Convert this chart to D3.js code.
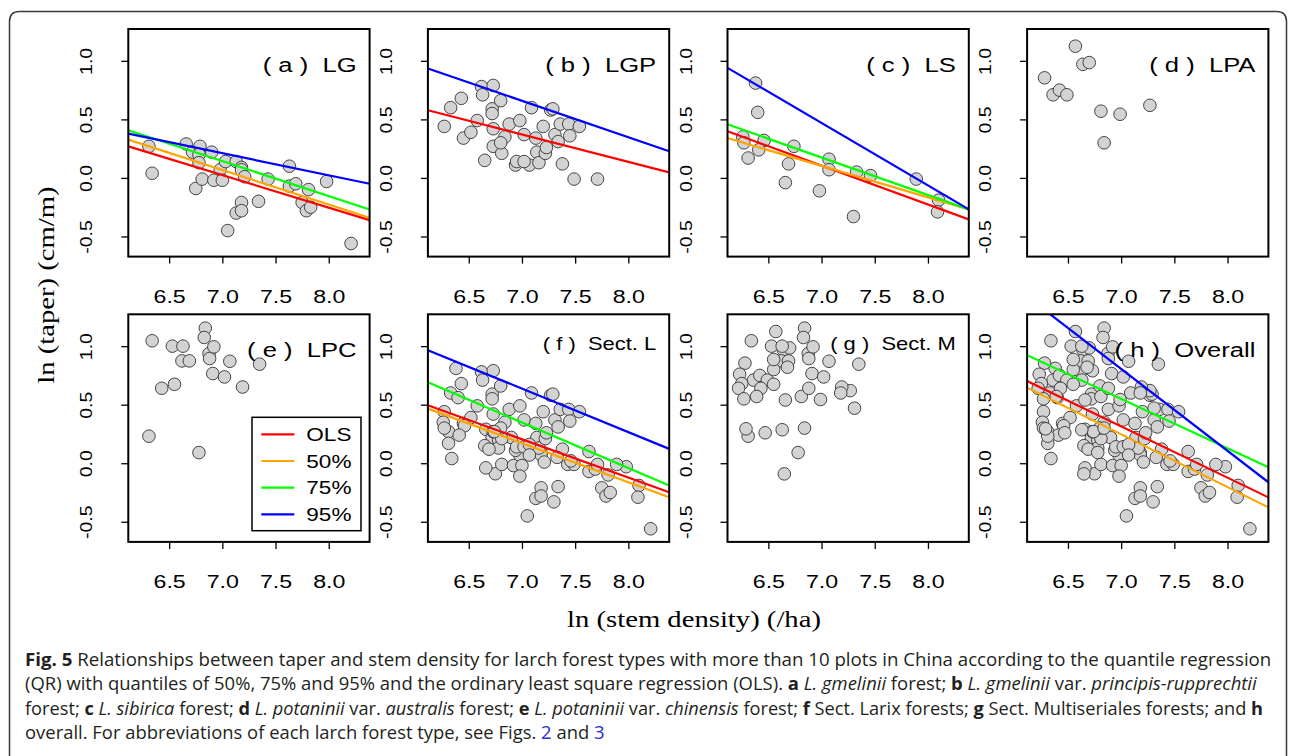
<!DOCTYPE html>
<html><head><meta charset="utf-8">
<script src="https://cdn.jsdelivr.net/npm/d3@7"></script>
<style>
html,body{margin:0;padding:0;background:#fff;}
svg{display:block;}
text{white-space:pre;}
</style></head>
<body>
<svg id="chart" width="1290" height="756"></svg>
<script>
// ---------------- data ----------------
const xTicks = [6.5, 7.0, 7.5, 8.0];
const yTicks = [-0.5, 0.0, 0.5, 1.0];
const xDomain = [6.116, 8.384];   // ln(stem density) axis limits
const yDomain = [-0.672, 1.272];  // ln(taper) axis limits
const legendLabels = ["OLS", "50%", "75%", "95%"];
const lineColors = ["#ff0000", "#ffa500", "#00ff00", "#0000ff"];
const panelTitles = ["( a )  LG", "( b )  LGP", "( c )  LS", "( d )  LPA",
                     "( e )  LPC", "( f )  Sect. L", "( g )  Sect. M", "( h )  Overall"];
const xTitle = "ln (stem density) (/ha)";
const yTitle = "ln (taper) (cm/m)";

// plots: [ln stem density, ln taper]
const ptsLG = [[6.31,0.27],[6.34,0.04],[6.66,0.29],[6.75,-0.09],[6.72,0.22],[6.79,0.27],[6.78,0.20],[6.78,0.13],
  [6.81,-0.01],[6.90,0.22],[6.92,-0.02],[6.98,0.07],[7.00,-0.02],[7.05,-0.45],[7.03,0.14],[7.13,0.14],[7.18,0.09],
  [7.18,0.07],[7.21,0.01],[7.18,-0.21],[7.13,-0.30],[7.18,-0.28],[7.34,-0.20],[7.43,-0.01],[7.63,0.10],[7.63,-0.07],
  [7.69,-0.05],[7.75,-0.21],[7.79,-0.28],[7.83,-0.25],[7.81,-0.10],[7.98,-0.03],[8.21,-0.56]];
const ptsLGP = [[6.27,0.44],[6.33,0.60],[6.43,0.68],[6.45,0.34],[6.52,0.39],[6.58,0.49],[6.62,0.78],[6.63,0.71],
  [6.65,0.15],[6.73,0.79],[6.72,0.59],[6.72,0.55],[6.73,0.42],[6.73,0.27],[6.80,0.66],[6.84,0.35],[6.81,0.21],
  [6.80,0.30],[6.88,0.46],[6.98,0.49],[7.02,0.37],[6.94,0.11],[6.95,0.14],[7.07,0.11],[7.09,0.60],[7.13,0.34],
  [7.14,0.22],[7.16,0.13],[7.20,0.44],[7.22,0.21],[7.27,0.58],[7.29,0.59],[7.23,0.26],[7.31,0.37],[7.34,0.31],
  [7.36,0.46],[7.38,0.12],[7.44,0.46],[7.45,0.36],[7.54,0.44],[7.49,-0.01],[7.71,-0.01],[7.02,0.14]];
const ptsLS = [[6.26,0.35],[6.27,0.30],[6.31,0.17],[6.38,0.81],[6.40,0.56],[6.46,0.32],[6.41,0.24],[6.66,-0.04],
  [6.69,0.12],[6.74,0.27],[6.98,-0.11],[7.07,0.16],[7.07,0.07],[7.30,-0.33],[7.33,0.05],[7.46,0.02],[7.89,-0.01],
  [8.10,-0.19],[8.09,-0.29]];
const ptsLPA = [[6.28,0.855],[6.36,0.71],[6.42,0.75],[6.49,0.71],[6.57,1.125],[6.64,0.97],[6.70,0.985],[6.81,0.57],
  [6.84,0.30],[6.99,0.544],[7.27,0.62]];
const ptsLPC = [[6.34,1.046],[6.53,1.0],[6.63,1.0],[6.62,0.874],[6.69,0.874],[6.43,0.64],[6.55,0.674],[6.31,0.231],
  [6.78,0.091],[6.84,1.154],[6.83,1.074],[6.875,0.937],[6.88,0.894],[6.92,0.994],[6.91,0.766],[7.02,0.737],
  [7.07,0.871],[7.19,0.651],[7.35,0.846]];
const ptsOtherM = [[6.23,0.76],[6.25,0.68],[6.22,0.64],[6.27,0.55],[6.39,0.57],[6.55,0.80],[6.55,0.886],[6.68,0.82],
  [6.66,0.54],[6.88,0.64],[7.18,0.60],[7.31,0.47],[6.29,0.294],[6.47,0.26],[6.63,0.286],[6.65,-0.091]];
const ptsSectL = ptsLG.concat(ptsLGP, ptsLS);
const ptsSectM = ptsLPA.concat(ptsLPC, ptsOtherM);
const ptsOverall = ptsSectL.concat(ptsSectM);

// fitted lines: [intercept, slope] for OLS, 50%, 75%, 95%
const fitLG      = [[1.970,-0.2780],[2.125,-0.2940],[2.233,-0.2985],[1.532,-0.1887]];
const fitLGP     = [[2.007,-0.2337], null, null, [2.841,-0.3117]];
const fitLS      = [[2.426,-0.3316],[1.986,-0.2690],[2.418,-0.3205],[4.200,-0.5330]];
const fitSectL   = [[2.498,-0.3276],[2.508,-0.3338],[3.070,-0.3889],[3.239,-0.3717]];
const fitOverall = [[3.383,-0.4383],[3.404,-0.4510],[3.504,-0.4220],[5.702,-0.6995]];

const panelPoints = [ptsLG, ptsLGP, ptsLS, ptsLPA, ptsLPC, ptsSectL, ptsSectM, ptsOverall];
const panelFits = [fitLG, fitLGP, fitLS, null, null, fitSectL, null, fitOverall];

// caption
const captionLines = [
  [["b","Fig. 5"],["n"," Relationships between taper and stem density for larch forest types with more than 10 plots in China according to the quantile regression"]],
  [["n","(QR) with quantiles of 50%, 75% and 95% and the ordinary least square regression (OLS). "],["b","a"],["n"," "],["i","L. gmelinii"],["n"," forest; "],["b","b"],["n"," "],["i","L. gmelinii"],["n"," var. "],["i","principis-rupprechtii"]],
  [["n","forest; "],["b","c"],["n"," "],["i","L. sibirica"],["n"," forest; "],["b","d"],["n"," "],["i","L. potaninii"],["n"," var. "],["i","australis"],["n"," forest; "],["b","e"],["n"," "],["i","L. potaninii"],["n"," var. "],["i","chinensis"],["n"," forest; "],["b","f"],["n"," Sect. Larix forests; "],["b","g"],["n"," Sect. Multiseriales forests; and "],["b","h"]],
  [["n","overall. For abbreviations of each larch forest type, see Figs. "],["l","2"],["n"," and "],["l","3"]]
];

// ---------------- drawing ----------------
const SANS = "'Liberation Sans', Arial, Helvetica, sans-serif";
const SERIF = "'Liberation Serif', 'Times New Roman', serif";
const CAP = "'Open Sans', 'Noto Sans', sans-serif";
const STRETCH = 1.22;

const svg = d3.select("#chart");
svg.append("rect").attr("width",1290).attr("height",756).attr("fill","#fff");

// figure frame
svg.append("path")
  .attr("d","M9.5,760 V21.5 Q9.5,11.5 19.5,11.5 H1276.5 Q1286.5,11.5 1286.5,21.5 V760")
  .attr("fill","none").attr("stroke","#3a3a3a").attr("stroke-width",1.5);

const colLeft = [128.3, 427.9, 727.5, 1027.1];
const rowTop = [29, 314.3];
const W = 241.3, H = 227.6;
const x = d3.scaleLinear().domain(xDomain).range([0, W]);
const y = d3.scaleLinear().domain(yDomain).range([H, 0]);
const fmt = d => d.toFixed(1);

panelPoints.forEach((pts, i) => {
  const g = svg.append("g")
    .attr("transform", `translate(${colLeft[i % 4]},${rowTop[Math.floor(i / 4)]})`);
  const cid = "clip" + i;
  g.append("clipPath").attr("id", cid).append("rect").attr("width", W).attr("height", H);

  // x axis
  const xa = g.append("g").attr("transform", `translate(0,${H})`)
    .call(d3.axisBottom(x).tickValues(xTicks).tickSize(7).tickPadding(26).tickFormat(fmt));
  xa.select(".domain").remove();
  xa.selectAll("line").attr("stroke", "#000").attr("stroke-width", 1.3);
  xa.selectAll("text").attr("fill", "#000")
    .style("font-family", SANS).style("font-size", "19px")
    .attr("transform", `scale(${STRETCH},1)`);

  // y axis
  const ya = g.append("g")
    .call(d3.axisLeft(y).tickValues(yTicks).tickSize(7).tickFormat(fmt));
  ya.select(".domain").remove();
  ya.selectAll("line").attr("stroke", "#000").attr("stroke-width", 1.3);
  ya.selectAll("text").attr("fill", "#000")
    .attr("x", 0).attr("dy", null).attr("text-anchor", "middle")
    .style("font-family", SANS).style("font-size", "16px")
    .attr("transform", `translate(-36,0) rotate(-90) scale(${STRETCH},1)`);

  // points
  g.append("g").selectAll("circle").data(pts).join("circle")
    .attr("cx", d => x(d[0])).attr("cy", d => y(d[1])).attr("r", 6.3)
    .attr("fill", "#d3d3d3").attr("stroke", "#333").attr("stroke-width", 0.9);

  // fitted lines
  const fits = panelFits[i];
  if (fits) {
    const data = fits.map((f, k) => f ? { f, k } : null).filter(Boolean);
    g.append("g").attr("clip-path", `url(#${cid})`)
      .selectAll("line").data(data).join("line")
      .attr("x1", x(xDomain[0])).attr("x2", x(xDomain[1]))
      .attr("y1", d => y(d.f[0] + d.f[1] * xDomain[0]))
      .attr("y2", d => y(d.f[0] + d.f[1] * xDomain[1]))
      .attr("stroke", d => lineColors[d.k]).attr("stroke-width", 2.2);
  }

  // box
  g.append("rect").attr("width", W).attr("height", H)
    .attr("fill", "none").attr("stroke", "#000").attr("stroke-width", 2);

  // panel title
  const small = (i === 5 || i === 6);
  g.append("text")
    .attr("transform", `translate(${W - 13},${small ? 35.5 : 42.5}) scale(${STRETCH},1)`)
    .attr("text-anchor", "end").attr("fill", "#000")
    .style("font-family", SANS).style("font-size", small ? "18px" : "21px")
    .text(panelTitles[i]);

  // legend in panel (e)
  if (i === 4) {
    const lw = 109, lh = 113.4;
    const lg = g.append("g").attr("transform", `translate(${W - 8.6 - lw},${H - 11.2 - lh})`);
    lg.append("rect").attr("width", lw).attr("height", lh)
      .attr("fill", "#fff").attr("stroke", "#000").attr("stroke-width", 1.5);
    const rows = lg.selectAll("g.row").data(legendLabels).join("g")
      .attr("transform", (d, k) => `translate(0,${17 + k * 26.7})`);
    rows.append("line").attr("x1", 9.3).attr("x2", 42.3)
      .attr("stroke", (d, k) => lineColors[k]).attr("stroke-width", 2.2);
    rows.append("text").attr("transform", `translate(54.3,6.6) scale(${STRETCH},1)`)
      .attr("fill", "#000").style("font-family", SANS).style("font-size", "18.5px")
      .text(d => d);
  }
});

// axis titles
svg.append("text")
  .attr("transform", `translate(694,627) scale(${STRETCH},1)`)
  .attr("text-anchor", "middle").attr("fill", "#000")
  .style("font-family", SERIF).style("font-size", "23.5px").text(xTitle);
svg.append("text")
  .attr("transform", `translate(54,285) rotate(-90) scale(${STRETCH},1)`)
  .attr("text-anchor", "middle").attr("fill", "#000")
  .style("font-family", SERIF).style("font-size", "23.5px").text(yTitle);

// caption (each line fitted to the width it has in the figure)
const capBase = [666, 690.3, 714.6, 739];
const capEnd = [1272, 1257, 1264, 605];
const capNodes = captionLines.map((segs, li) => {
  const t = svg.append("text").attr("fill", "#231f20")
    .style("font-family", CAP).style("font-size", "18.5px");
  segs.forEach(([kind, str]) => {
    const ts = t.append("tspan").text(str);
    if (kind === "b") ts.style("font-weight", "bold");
    if (kind === "i") ts.style("font-style", "italic");
    if (kind === "l") ts.attr("fill", "#2b2bd6");
  });
  return t;
});
capNodes.forEach((t, li) => {
  const natW = t.node().getComputedTextLength();
  const sc = (capEnd[li] - 25) / natW;
  t.attr("transform", `translate(25,${capBase[li]}) scale(${sc},1)`);
});
</script>
</body></html>
